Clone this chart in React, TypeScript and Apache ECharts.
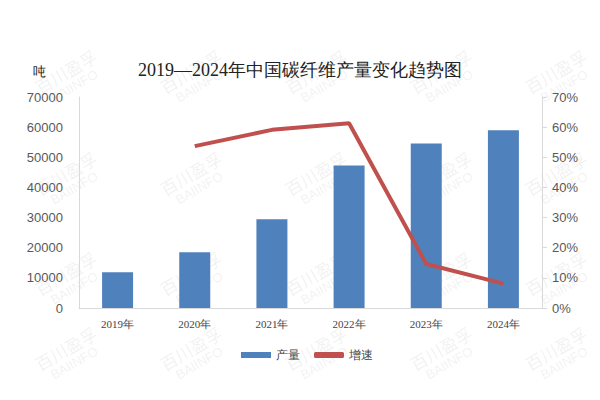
import React, { useEffect, useRef } from "react";
import * as echarts from "echarts";

const categories = ["2019年", "2020年", "2021年", "2022年", "2023年", "2024年"];
const production = [11900, 18500, 29450, 47300, 54600, 59000];
const growth = [null, 53.7, 59.1, 61.3, 14.6, 8.1];
const rightTicks = ["0%", "10%", "20%", "30%", "40%", "50%", "60%", "70%"];

const wmCols = [65, 190, 315, 440, 555];
const wmRows = [78, 180, 280, 355];

export default function App() {
  const ref = useRef<HTMLDivElement>(null);
  useEffect(() => {
    if (!ref.current) return;
    const chart = echarts.init(ref.current, null, { renderer: "svg" });
    const watermarks: any[] = [];
    wmRows.forEach((y) => {
      wmCols.forEach((x) => {
        watermarks.push({
          type: "group",
          x,
          y,
          rotation: Math.PI / 6,
          silent: true,
          z: -10,
          children: [
            { type: "text", x: -30, y: -14, style: { text: "百川盈孚", fill: "rgba(170,170,170,0.16)", font: "17px 'Noto Sans CJK SC'" } },
            { type: "text", x: -22, y: 5, style: { text: "BAIINFO", fill: "rgba(170,170,170,0.16)", font: "13px 'Liberation Sans'" } },
          ],
        });
      });
    });
    chart.setOption({
      animation: false,
      backgroundColor: "#ffffff",
      title: {
        text: "2019—2024年中国碳纤维产量变化趋势图",
        left: "center",
        top: 56,
        textStyle: { fontFamily: "serif", fontSize: 18, fontWeight: "normal", color: "#222" },
      },
      graphic: [
        ...watermarks,
        { type: "text", left: 33, top: 65, style: { text: "吨", fill: "#222", font: "13px serif" } },
      ],
      legend: {
        bottom: 34,
        left: 236,
        itemWidth: 30,
        itemHeight: 6,
        itemGap: 14,
        textStyle: { fontFamily: "serif", fontSize: 12, color: "#444" },
        data: [
          { name: "产量", icon: "rect" },
          { name: "增速", icon: "roundRect" },
        ],
      },
      grid: { left: 79, right: 58, top: 97, bottom: 92 },
      xAxis: {
        type: "category",
        data: categories,
        axisLine: { lineStyle: { color: "#d9d9d9" } },
        axisTick: { show: false },
        axisLabel: { color: "#444", fontFamily: "serif", fontSize: 11, margin: 10 },
      },
      yAxis: [
        {
          type: "value",
          min: 0,
          max: 70000,
          interval: 10000,
          axisLine: { show: true, lineStyle: { color: "#d9d9d9" } },
          axisTick: { show: false },
          splitLine: { show: false },
          axisLabel: {
            color: "#595959",
            fontFamily: "Liberation Sans",
            fontSize: 13,
            margin: 16,
            formatter: (v: number) => String(v),
          },
        },
        {
          type: "value",
          min: 0,
          max: 70,
          interval: 10,
          position: "right",
          axisLine: { show: true, lineStyle: { color: "#d9d9d9" } },
          axisTick: { show: true, length: 5, lineStyle: { color: "#d9d9d9" } },
          splitLine: { show: false },
          axisLabel: {
            color: "#595959",
            fontFamily: "Liberation Sans",
            fontSize: 13,
            margin: 10,
            formatter: (v: number) => rightTicks[Math.round(v / 10)] ?? v + "%",
          },
        },
      ],
      series: [
        {
          name: "产量",
          type: "bar",
          data: production,
          barWidth: 31,
          itemStyle: { color: "#4F81BD" },
          yAxisIndex: 0,
        },
        {
          name: "增速",
          type: "line",
          data: growth,
          yAxisIndex: 1,
          symbol: "none",
          lineStyle: { color: "#C0504D", width: 4 },
          itemStyle: { color: "#C0504D" },
        },
      ],
    });
    return () => chart.dispose();
  }, []);
  return <div ref={ref} style={{ width: 600, height: 400, margin: -8 }} />;
}
